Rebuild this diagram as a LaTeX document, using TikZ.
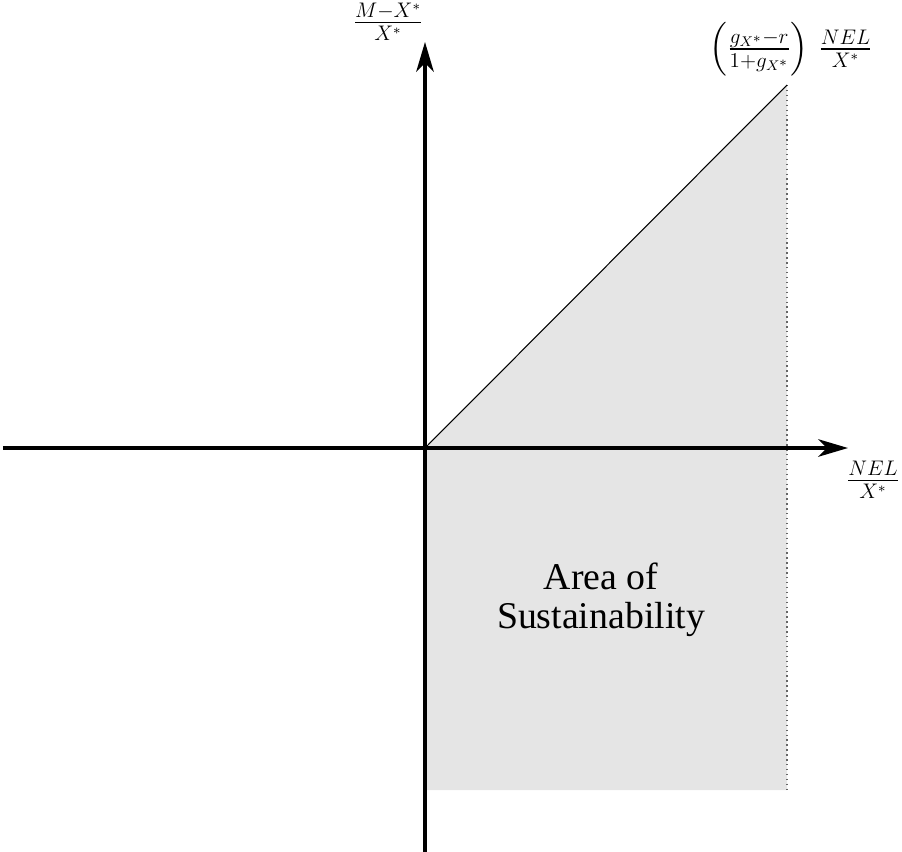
\documentclass[tikz,border=0pt]{standalone}
\usepackage{amsmath,amssymb}
\usepackage{fontspec}
\newfontfamily\timesfont{Liberation Serif}
\usetikzlibrary{arrows.meta,calc,positioning}

\begin{document}
\begin{tikzpicture}[
    axis/.style={line width=2pt,-{Stealth[length=17pt,width=10pt,inset=5pt]}},
    lbl/.style={font=\fontsize{17}{20}\selectfont},
    region/.style={fill=black!10,draw=none}]
  \useasboundingbox (-8.5,-8.06) rectangle (9.54,8.96);

  \coordinate (O) at (0,0);
  \coordinate (P) at (7.24,7.26);
  \coordinate (Q) at (7.24,-6.84);
  \coordinate (R) at (0,-6.84);

  % shaded area
  \fill[region] (O) -- (P) -- (Q) -- (R) -- cycle;
  \draw[black!60,dotted,line width=0.8pt] (P) -- (Q);
  \draw[line width=0.6pt] (O) -- (P);

  \coordinate (xl) at (-8.44,0);
  \coordinate (xr) at (8.46,0);
  \coordinate (yb) at (0,-8.1);
  \coordinate (yt) at (0,8.12);
  \draw[axis] (xl) -- (xr);
  \draw[axis] (yb) -- (yt);

  \node[lbl] (ylab) at (-0.74,8.52) {$\frac{M-X^*}{X^*}$};
  \node[lbl] (xlab) at (8.96,-0.64) {$\frac{NEL}{X^*}$};
  \node[lbl] (plab) at (7.32,7.98) {$\left(\frac{g_{X^*}-r}{1+g_{X^*}}\right)\,\frac{NEL}{X^*}$};

  \node[font=\timesfont\fontsize{21.5}{22}\selectfont,align=center] (area) at (3.52,-3.04) {Area of\\Sustainability};
\end{tikzpicture}
\end{document}
